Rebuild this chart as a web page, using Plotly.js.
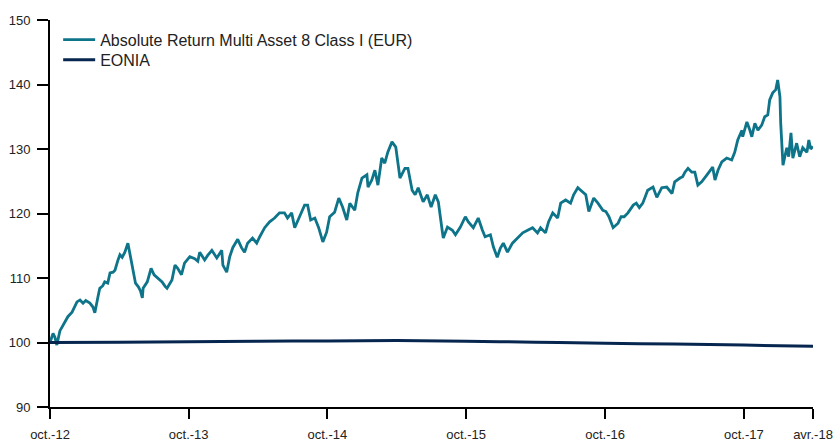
<!DOCTYPE html>
<html>
<head>
<meta charset="utf-8">
<script src="https://cdn.plot.ly/plotly-3.0.1.min.js"></script>
<style>html,body{margin:0;padding:0;background:#fff;}#chart{width:836px;height:441px;}</style>
</head>
<body>
<div id="chart"></div>
<script>
const fundName = "Absolute Return Multi Asset 8 Class I (EUR)";
const benchName = "EONIA";

const fundDates = [
"2012-10-01","2012-10-09","2012-10-14","2012-10-19","2012-10-27","2012-11-04","2012-11-09","2012-11-17","2012-11-28","2012-12-06",
"2012-12-11","2012-12-19","2012-12-27","2013-01-03","2013-01-14","2013-01-22","2013-01-27","2013-02-04","2013-02-09","2013-02-17",
"2013-02-22","2013-03-02","2013-03-08","2013-03-16","2013-03-21","2013-03-29","2013-04-03","2013-04-09","2013-04-16","2013-04-24",
"2013-05-01","2013-05-09","2013-05-14","2013-05-22","2013-05-27","2013-06-01","2013-06-03","2013-06-14","2013-06-24","2013-07-02",
"2013-07-12","2013-07-23","2013-07-31","2013-08-05","2013-08-18","2013-08-26","2013-09-02","2013-09-12","2013-09-20","2013-10-04",
"2013-10-17","2013-10-25","2013-10-30","2013-11-12","2013-11-20","2013-12-01","2013-12-14","2013-12-27","2013-12-30","2014-01-09",
"2014-01-17","2014-01-25","2014-02-07","2014-02-17","2014-02-25","2014-03-05","2014-03-18","2014-03-29","2014-04-06","2014-04-19",
"2014-05-02","2014-05-15","2014-05-28","2014-06-10","2014-06-18","2014-06-29","2014-07-07","2014-07-20","2014-08-02","2014-08-10",
"2014-08-18","2014-08-29","2014-09-08","2014-09-19","2014-09-29","2014-10-07","2014-10-20","2014-10-31","2014-11-10","2014-11-21",
"2014-11-29","2014-12-12","2014-12-20","2014-12-31","2015-01-13","2015-01-16","2015-01-26","2015-02-03","2015-02-11","2015-02-21",
"2015-03-01","2015-03-09","2015-03-20","2015-03-30","2015-04-05","2015-04-10","2015-04-23","2015-05-01","2015-05-12","2015-05-20",
"2015-05-28","2015-06-10","2015-06-21","2015-07-01","2015-07-12","2015-07-20","2015-07-30","2015-08-02","2015-08-13","2015-08-26",
"2015-09-03","2015-09-16","2015-09-29","2015-10-07","2015-10-20","2015-11-02","2015-11-13","2015-11-20","2015-12-04","2015-12-12",
"2015-12-22","2015-12-30","2016-01-07","2016-01-18","2016-01-31","2016-02-13","2016-02-27","2016-03-11","2016-03-24","2016-04-06",
"2016-04-14","2016-04-27","2016-05-05","2016-05-16","2016-05-29","2016-06-06","2016-06-19","2016-07-02","2016-07-10","2016-07-21",
"2016-08-03","2016-08-11","2016-08-19","2016-09-01","2016-09-12","2016-09-25","2016-10-03","2016-10-11","2016-10-22","2016-11-04",
"2016-11-12","2016-11-20","2016-11-30","2016-12-14","2016-12-22","2016-12-30","2017-01-08","2017-01-21","2017-02-04","2017-02-14",
"2017-02-27","2017-03-12","2017-03-26","2017-04-02","2017-04-16","2017-04-23","2017-04-29","2017-05-07","2017-05-17","2017-05-25",
"2017-06-02","2017-06-12","2017-06-26","2017-07-04","2017-07-11","2017-07-17","2017-07-25","2017-08-04","2017-08-17","2017-08-30",
"2017-09-07","2017-09-15","2017-09-26","2017-09-28","2017-10-09","2017-10-17","2017-10-22","2017-10-30","2017-11-07","2017-11-17",
"2017-11-25","2017-12-03","2017-12-08","2017-12-16","2017-12-24","2017-12-29","2018-01-04","2018-01-06","2018-01-09","2018-01-12",
"2018-01-22","2018-01-27","2018-02-02","2018-02-07","2018-02-17","2018-02-25","2018-03-05","2018-03-16","2018-03-21","2018-03-26",
"2018-04-01"
];
const fundValues = [
100.0,101.4,100.8,99.6,101.8,102.6,103.3,104.0,104.7,105.6,
106.3,106.6,106.1,106.5,106.1,105.5,104.6,107.0,108.4,108.8,
109.4,109.2,110.8,110.9,111.2,112.8,113.6,113.2,114.0,115.4,
113.3,110.8,109.2,108.6,108.0,106.9,108.4,109.4,111.5,110.5,
110.0,109.4,108.7,108.4,109.7,112.0,111.5,110.5,112.3,113.3,
113.0,112.6,114.0,112.8,113.5,114.3,113.1,114.3,112.0,110.9,
113.3,114.7,116.0,114.7,114.0,115.4,116.2,115.4,116.4,117.8,
118.7,119.3,120.1,120.1,119.3,120.1,117.8,119.5,121.3,121.3,
119.0,119.3,117.8,115.6,117.1,119.5,120.2,122.4,121.0,119.0,
121.6,120.5,123.2,125.5,126.0,124.1,125.2,126.7,124.4,128.6,
127.8,129.5,131.1,130.3,127.8,125.5,127.0,127.0,123.6,122.9,
124.0,121.8,122.9,121.0,122.9,121.8,117.4,116.2,117.9,117.4,
116.7,117.9,119.5,118.7,117.8,119.3,117.4,116.4,116.7,114.8,
113.2,114.6,115.4,114.0,115.4,116.2,117.0,117.4,117.8,117.0,
117.8,117.0,118.7,120.1,119.3,121.6,122.1,121.6,122.9,124.0,
123.3,122.9,120.3,122.4,121.6,120.5,120.3,119.5,117.8,118.5,
119.5,119.5,120.1,121.3,121.6,120.9,121.6,123.6,124.1,122.5,
124.0,124.1,123.1,124.9,125.5,125.7,126.4,127.0,126.4,126.4,
124.4,124.9,126.0,126.7,127.2,125.2,126.7,128.0,128.6,128.3,
129.5,131.4,132.9,131.9,134.2,132.9,131.9,134.0,132.9,133.7,
135.0,135.3,137.6,138.7,139.2,140.7,138.1,134.0,129.8,127.5,
130.2,128.8,132.5,128.6,130.9,128.8,130.2,129.5,131.4,130.0,
130.4
];

const benchDates = ["2012-10-01","2013-04-01","2013-10-01","2014-04-01","2014-10-01","2015-04-01","2015-10-01","2016-04-01","2016-10-01","2017-04-01","2017-10-01","2018-04-01"];
const benchValues = [100.0,100.05,100.12,100.2,100.25,100.3,100.2,100.05,99.9,99.75,99.6,99.42];

const tickDates = ["2012-10-01","2013-10-01","2014-10-01","2015-10-01","2016-10-01","2017-10-01","2018-04-01"];
const tickLabels = ["oct.-12","oct.-13","oct.-14","oct.-15","oct.-16","oct.-17","avr.-18"];
const yTicks = [90,100,110,120,130,140,150];

const font = "Arial, 'Liberation Sans', sans-serif";

const traces = [
  {x: fundDates, y: fundValues, type: "scatter", mode: "lines", name: fundName,
   line: {color: "#0d7489", width: 2.8}, legend: "legend"},
  {x: benchDates, y: benchValues, type: "scatter", mode: "lines", name: benchName,
   line: {color: "#06264f", width: 3, shape: "spline"}, legend: "legend2"}
];

const legendBase = {xanchor: "left", yanchor: "top", bgcolor: "rgba(0,0,0,0)", itemwidth: 32,
                    font: {family: font, size: 16, color: "#222"}};

const layout = {
  width: 836, height: 441,
  margin: {l: 50, r: 23, t: 20, b: 34},
  paper_bgcolor: "#fff", plot_bgcolor: "#fff",
  font: {family: font, size: 13, color: "#222"},
  showlegend: true,
  legend: Object.assign({}, legendBase, {x: 0.0107, y: 0.993}),
  legend2: Object.assign({}, legendBase, {x: 0.0107, y: 0.941}),
  xaxis: {type: "date", range: ["2012-10-01","2018-04-01"], tickmode: "array",
          tickvals: tickDates, ticktext: tickLabels, showgrid: false, zeroline: false,
          showline: true, linecolor: "#000", linewidth: 2, ticks: "outside", ticklen: 10,
          tickwidth: 2, tickcolor: "#000", ticklabelstandoff: 4,
          tickfont: {family: font, size: 13, color: "#222"}},
  yaxis: {range: [90,150], tickmode: "array", tickvals: yTicks, showgrid: false, zeroline: false,
          showline: true, linecolor: "#000", linewidth: 2, ticks: "outside", ticklen: 11,
          tickwidth: 2, tickcolor: "#000", ticklabelstandoff: 4,
          tickfont: {family: font, size: 13, color: "#222"}}
};

Plotly.newPlot("chart", traces, layout, {staticPlot: true, displayModeBar: false});
</script>
</body>
</html>
